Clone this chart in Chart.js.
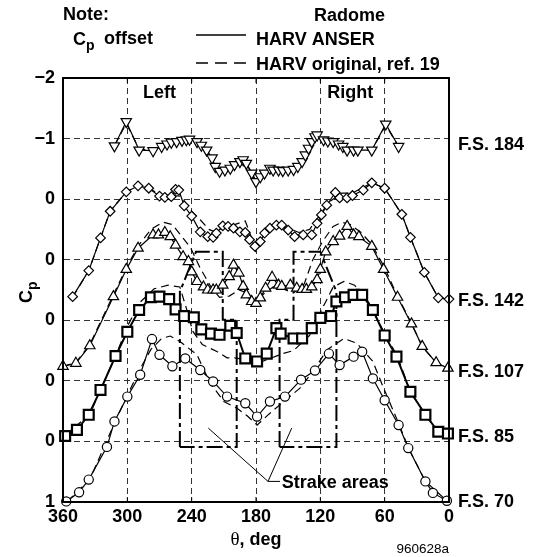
<!DOCTYPE html>
<html>
<head>
<meta charset="utf-8">
<script src="https://cdn.jsdelivr.net/npm/chart.js@4.4.0/dist/chart.umd.min.js"></script>
<style>
  html, body { margin: 0; padding: 0; background: #fff; }
  #myChart { display: block; }
</style>
</head>
<body>
<canvas id="myChart" width="536" height="557"></canvas>
<script>
"use strict";
const FONT = '"Liberation Sans", Arial, Helvetica, sans-serif';

// HARV ANSER, theta (deg) and Cp per fuselage station
const theta184 = [312, 301, 289, 276, 268, 263, 259, 254, 249, 245, 242, 235, 231, 226, 221, 218, 214, 209, 204, 200, 195, 192, 189, 184, 180, 176, 172, 167, 164, 159, 155, 150, 145, 141, 137, 134, 131, 128, 125, 123, 117, 113, 108, 103, 99, 95, 89, 85, 72, 59, 47];
const cp184 = [-0.88, -1.28, -0.81, -0.80, -0.87, -0.91, -0.94, -0.95, -0.97, -0.98, -0.99, -0.95, -0.89, -0.81, -0.68, -0.54, -0.46, -0.48, -0.51, -0.57, -0.62, -0.65, -0.59, -0.43, -0.29, -0.37, -0.43, -0.51, -0.48, -0.48, -0.47, -0.48, -0.49, -0.54, -0.62, -0.73, -0.84, -0.95, -1.03, -1.06, -0.98, -0.96, -0.95, -0.91, -0.87, -0.81, -0.81, -0.81, -0.81, -1.24, -0.87];

const theta142 = [351, 336, 325, 316, 301, 290, 280, 270, 265, 259, 255, 252, 247, 240, 232, 225, 220, 217, 211, 206, 201, 195, 190, 186, 181, 176, 172, 167, 161, 156, 150, 144, 136, 128, 123, 119, 114, 106, 102, 95, 90, 80, 72, 60, 44, 36, 23, 10, 0];
const cp142 = [0.61, 0.18, -0.36, -0.80, -1.12, -1.22, -1.18, -1.05, -1.03, -1.04, -1.16, -1.15, -0.89, -0.72, -0.46, -0.38, -0.37, -0.44, -0.56, -0.55, -0.52, -0.46, -0.45, -0.33, -0.22, -0.30, -0.44, -0.52, -0.57, -0.57, -0.49, -0.38, -0.41, -0.41, -0.60, -0.74, -0.90, -1.11, -1.02, -1.02, -1.06, -1.15, -1.27, -1.18, -0.75, -0.37, 0.21, 0.63, 0.65];

const theta107 = [360, 348, 335, 313, 301, 290, 276, 271, 265, 260, 255, 248, 243, 240, 235, 229, 225, 220, 217, 211, 205, 201, 196, 192, 189, 184, 180, 176, 171, 165, 159, 156, 148, 142, 137, 133, 128, 123, 120, 115, 108, 102, 95, 89, 84, 72, 61, 48, 35, 25, 12, 1];
const cp107 = [0.76, 0.71, 0.42, -0.39, -0.84, -1.19, -1.41, -1.41, -1.45, -1.38, -1.24, -1.05, -0.97, -0.80, -0.64, -0.55, -0.50, -0.50, -0.50, -0.58, -0.72, -0.91, -0.78, -0.56, -0.42, -0.31, -0.28, -0.37, -0.53, -0.71, -0.58, -0.56, -0.58, -0.53, -0.51, -0.51, -0.55, -0.67, -0.84, -1.13, -1.30, -1.39, -1.55, -1.41, -1.38, -1.22, -0.84, -0.38, 0.06, 0.43, 0.70, 0.79];

const theta85 = [358, 347, 336, 325, 311, 300, 289, 278, 270, 261, 255, 247, 238, 231, 222, 214, 204, 198, 190, 179, 170, 161, 157, 145, 137, 128, 120, 110, 105, 97, 89, 81, 71, 60, 49, 36, 22, 10, 1];
const cp85 = [0.91, 0.81, 0.56, 0.15, -0.41, -0.81, -1.17, -1.38, -1.39, -1.35, -1.18, -1.07, -1.05, -0.85, -0.78, -0.76, -0.91, -0.79, -0.37, -0.32, -0.45, -0.87, -0.78, -0.70, -0.70, -0.87, -1.04, -1.07, -1.31, -1.38, -1.42, -1.42, -1.17, -0.75, -0.40, 0.18, 0.56, 0.84, 0.87];

const theta70 = [357, 345, 336, 319, 312, 300, 288, 277, 270, 258, 246, 232, 220, 207, 190, 179, 167, 153, 138, 125, 112, 102, 89, 81, 71, 60, 47, 38, 22, 15, 2];
const cp70 = [0.99, 0.84, 0.63, 0.09, -0.33, -0.74, -1.10, -1.69, -1.43, -1.24, -1.37, -1.18, -0.99, -0.74, -0.63, -0.41, -0.66, -0.74, -1.02, -1.17, -1.45, -1.26, -1.40, -1.48, -1.04, -0.68, -0.27, 0.11, 0.66, 0.85, 0.98];

// HARV original, ref. 19
const orig184Theta = [312, 301, 289, 276, 262, 250, 241, 232, 224, 216, 208, 200, 192, 186, 180, 174, 166, 156, 146, 138, 130, 123, 114, 104, 95, 85, 72, 59, 47];
const orig184Cp = [-0.88, -1.25, -0.83, -0.80, -0.90, -0.96, -0.99, -0.90, -0.75, -0.50, -0.47, -0.56, -0.64, -0.50, -0.30, -0.40, -0.50, -0.48, -0.49, -0.60, -0.86, -1.05, -0.97, -0.91, -0.82, -0.81, -0.81, -1.22, -0.87];

const orig142Theta = [351, 336, 325, 316, 301, 290, 280, 270, 258, 250, 240, 232, 224, 217, 210, 200, 190, 185, 180, 175, 170, 160, 150, 140, 130, 120, 112, 100, 90, 72, 60, 44, 36, 23, 10, 0];
const orig142Cp = [0.62, 0.18, -0.36, -0.80, -1.12, -1.22, -1.18, -1.08, -1.06, -1.05, -0.80, -0.66, -0.50, -0.45, -0.55, -0.58, -0.64, -0.40, -0.12, -0.35, -0.55, -0.60, -0.52, -0.45, -0.50, -0.75, -0.95, -1.10, -1.10, -1.27, -1.18, -0.75, -0.37, 0.21, 0.63, 0.65];

const orig107Theta = [360, 348, 335, 313, 300, 289, 278, 267, 258, 250, 241, 232, 222, 214, 205, 196, 188, 180, 172, 164, 155, 145, 135, 127, 118, 108, 100, 92, 82, 72, 61, 48, 35, 25, 12, 1];
const orig107Cp = [0.76, 0.70, 0.40, -0.42, -0.90, -1.25, -1.50, -1.62, -1.58, -1.40, -1.20, -0.86, -0.55, -0.38, -0.40, -0.50, -0.45, -0.30, -0.45, -0.55, -0.52, -0.45, -0.60, -1.00, -1.30, -1.55, -1.62, -1.58, -1.45, -1.25, -0.90, -0.40, 0.05, 0.43, 0.70, 0.79];

const orig85Theta = [358, 335, 310, 300, 288, 275, 262, 251, 245, 239, 230, 216, 207, 200, 190, 180, 170, 155, 145, 130, 118, 108, 98, 88, 75, 62, 48, 36, 22, 10, 0];
const orig85Cp = [0.90, 0.55, -0.45, -0.90, -1.30, -1.52, -1.58, -1.55, -1.20, -0.82, -0.60, -0.48, -0.38, -0.38, -0.35, -0.28, -0.35, -0.45, -0.50, -0.75, -1.20, -1.55, -1.64, -1.58, -1.30, -0.85, -0.40, 0.18, 0.56, 0.84, 0.87];

const orig70Theta = [356, 335, 312, 300, 288, 278, 268, 260, 251, 235, 223, 210, 198, 188, 179, 168, 154, 139, 125, 114, 98, 86, 71, 61, 47, 38, 22, 2];
const orig70Cp = [0.99, 0.63, -0.30, -0.76, -1.20, -1.52, -1.70, -1.74, -1.65, -1.43, -0.97, -0.66, -0.55, -0.42, -0.27, -0.45, -0.66, -0.88, -1.20, -1.51, -1.70, -1.62, -1.32, -0.88, -0.30, 0.10, 0.66, 0.98];

// each station is shifted down by its Cp offset
const offsets = [0, 1, 2, 3, 4];
const stationLabels = ['F.S. 184', 'F.S. 142', 'F.S. 107', 'F.S. 85', 'F.S. 70'];
const yTickLabels = ['\u22122', '\u22121', '0', '0', '0', '0', '0', '1'];
const xTicks = [360, 300, 240, 180, 120, 60, 0];

// strake area outlines (theta, axis value)
const strakeLeftTheta = [251, 251, 236, 211, 211, 198, 198, 251];
const strakeLeftY = [4.09, 1.53, 0.87, 0.87, 1.99, 1.99, 4.09, 4.09];
const strakeRightTheta = [158, 158, 145, 145, 120, 105, 105, 158];
const strakeRightY = [4.09, 1.99, 1.99, 0.87, 0.87, 1.53, 4.09, 4.09];
const leaderTheta = [224.5, 168.8, 146.7];
const leaderY = [3.78, 4.66, 3.78];
const leaderTailTheta = [168.8, 157.6];
const leaderTailY = [4.66, 4.66];

const solidTheta = [theta184, theta142, theta107, theta85, theta70];
const solidCp = [cp184, cp142, cp107, cp85, cp70];
const origTheta = [orig184Theta, orig142Theta, orig107Theta, orig85Theta, orig70Theta];
const origCp = [orig184Cp, orig142Cp, orig107Cp, orig85Cp, orig70Cp];

const markerStyle = ['triangle', 'rectRot', 'triangle', 'rect', 'circle'];
const markerRotation = [180, 0, 0, 0, 0];
const markerRadius = [6, 4.8, 6, 7, 4.6];
const markerWidth = [1.2, 1.2, 1.2, 2.2, 1.2];
const curveWidth = [1.2, 1.2, 1.2, 2, 1.2];

function toPoints(th, vals, off) {
    return th.map((t, i) => ({ x: t, y: vals[i] + off }));
}

function outline(th, vals, dash, width) {
    return {
        data: toPoints(th, vals, 0),
        showLine: true,
        borderColor: '#000',
        borderWidth: width,
        borderDash: dash,
        pointRadius: 0,
        clip: false
    };
}

const datasets = [];
for (let i = 0; i < 5; i++) {
    datasets.push({
        data: toPoints(solidTheta[i], solidCp[i], offsets[i]),
        showLine: true,
        borderColor: '#000',
        borderWidth: curveWidth[i],
        pointStyle: markerStyle[i],
        rotation: markerRotation[i],
        pointRadius: markerRadius[i],
        pointBorderWidth: markerWidth[i],
        pointBackgroundColor: '#fff',
        pointBorderColor: '#000',
        clip: false
    });
}
for (let i = 0; i < 5; i++) {
    datasets.push(outline(origTheta[i].map(v => v), origCp[i].map(v => v + offsets[i]), [8, 5], 1.2));
}
datasets.push(outline(strakeLeftTheta, strakeLeftY, [16, 4, 4, 4], 2));
datasets.push(outline(strakeRightTheta, strakeRightY, [16, 4, 4, 4], 2));
datasets.push(outline(leaderTheta, leaderY, [], 1));
datasets.push(outline(leaderTailTheta, leaderTailY, [], 1));

function bold(size) { return 'bold ' + size + 'px ' + FONT; }

const decorations = {
    id: 'decorations',
    afterDraw(chart) {
        const { ctx, chartArea: a, scales: { x, y } } = chart;
        ctx.save();
        ctx.strokeStyle = '#000';
        ctx.fillStyle = '#000';
        ctx.lineWidth = 2;
        ctx.strokeRect(a.left, a.top, a.right - a.left, a.bottom - a.top);

        // short inside ticks on top and bottom
        ctx.lineWidth = 1;
        xTicks.forEach(t => {
            const px = x.getPixelForValue(t);
            ctx.beginPath();
            ctx.moveTo(px, a.top); ctx.lineTo(px, a.top + 5);
            ctx.moveTo(px, a.bottom - 5); ctx.lineTo(px, a.bottom);
            ctx.stroke();
        });

        ctx.textBaseline = 'alphabetic';
        ctx.textAlign = 'left';
        ctx.font = bold(18);
        ctx.fillText('Note:', 63, 20);
        ctx.fillText('C', 73, 45);
        ctx.font = bold(14);
        ctx.fillText('p', 86, 50);
        ctx.font = bold(18);
        ctx.fillText('offset', 104, 44);
        ctx.fillText('Radome', 314, 21);
        ctx.fillText('HARV ANSER', 256, 45);
        ctx.fillText('HARV original, ref. 19', 256, 70);

        ctx.lineWidth = 1.5;
        ctx.beginPath();
        ctx.moveTo(196, 35); ctx.lineTo(246, 35);
        ctx.stroke();
        ctx.setLineDash([12, 7]);
        ctx.beginPath();
        ctx.moveTo(196, 63); ctx.lineTo(246, 63);
        ctx.stroke();
        ctx.setLineDash([]);

        // y axis title
        ctx.save();
        ctx.translate(32, 292);
        ctx.rotate(-Math.PI / 2);
        ctx.font = bold(18);
        ctx.fillText('C', -11, 0);
        ctx.font = bold(14);
        ctx.fillText('p', 2, 5);
        ctx.restore();

        // station labels
        const labelY = [-0.9, 1.68, 2.85, 3.92, 5.0];
        ctx.font = bold(18);
        ctx.textBaseline = 'middle';
        stationLabels.forEach((s, i) => {
            ctx.fillText(s, a.right + 9, y.getPixelForValue(labelY[i]));
        });

        ctx.textAlign = 'center';
        ctx.fillText('Left', x.getPixelForValue(270), y.getPixelForValue(-1.76));
        ctx.fillText('Right', x.getPixelForValue(92), y.getPixelForValue(-1.76));
        ctx.textAlign = 'left';
        ctx.fillText('Strake areas', x.getPixelForValue(156), y.getPixelForValue(4.68));

        // x axis title
        ctx.textBaseline = 'alphabetic';
        ctx.font = '19px "Liberation Serif", "Times New Roman", serif';
        const wTheta = ctx.measureText('\u03b8').width;
        ctx.font = bold(18);
        const wRest = ctx.measureText(', deg').width;
        const x0 = (a.left + a.right) / 2 - (wTheta + wRest) / 2;
        ctx.font = '19px "Liberation Serif", "Times New Roman", serif';
        ctx.fillText('\u03b8', x0, 545);
        ctx.font = bold(18);
        ctx.fillText(', deg', x0 + wTheta, 545);

        ctx.font = '13.5px ' + FONT;
        ctx.textAlign = 'right';
        ctx.fillText('960628a', a.right, 553);
        ctx.restore();
    }
};

new Chart(document.getElementById('myChart'), {
    type: 'scatter',
    data: { datasets: datasets },
    options: {
        responsive: false,
        animation: false,
        devicePixelRatio: 1,
        layout: { padding: { top: 78, right: 87, bottom: 0, left: 0 } },
        plugins: { legend: { display: false }, tooltip: { enabled: false } },
        scales: {
            x: {
                type: 'linear',
                min: 0,
                max: 360,
                reverse: true,
                afterFit(scale) { scale.height = 55; },
                ticks: {
                    stepSize: 60,
                    padding: 4,
                    color: '#000',
                    font: { family: FONT, size: 18, weight: 'bold' }
                },
                grid: { color: '#333', lineWidth: 1, drawTicks: false },
                border: { display: true, color: '#000', width: 2, dash: [6, 4] }
            },
            y: {
                type: 'linear',
                min: -2,
                max: 5,
                reverse: true,
                afterFit(scale) { scale.width = 63; },
                ticks: {
                    stepSize: 1,
                    padding: 8,
                    color: '#000',
                    font: { family: FONT, size: 18, weight: 'bold' },
                    callback: v => yTickLabels[v + 2]
                },
                grid: { color: '#333', lineWidth: 1, drawTicks: false },
                border: { display: true, color: '#000', width: 2, dash: [6, 4] }
            }
        }
    },
    plugins: [decorations]
});
</script>
</body>
</html>
